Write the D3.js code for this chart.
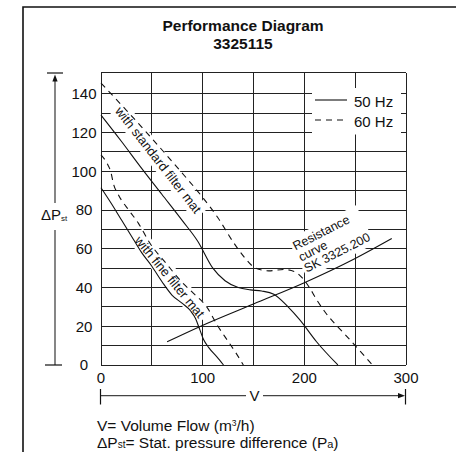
<!DOCTYPE html>
<html>
<head>
<meta charset="utf-8">
<script src="https://cdn.jsdelivr.net/npm/d3@7"></script>
<style>
  body { margin: 0; background: #fff; }
  svg { display: block; }
  text { font-family: "Liberation Sans", Arial, Helvetica, sans-serif; fill: #111; }
</style>
</head>
<body>
<svg id="chart" width="456" height="452"></svg>
<script>
// ---- chart content ----
const titleLines = ["Performance Diagram", "3325115"];
const xTickValues = [0, 100, 200, 300];
const yTickValues = [0, 20, 40, 60, 80, 100, 120, 140];
const xGridValues = [0, 50, 100, 150, 200, 250, 300];
const yGridValues = [0, 10, 20, 30, 40, 50, 60, 70, 80, 90, 100, 110, 120, 130, 140];
const legendLabels = ["50 Hz", "60 Hz"];

// Fan curves [volume flow m³/h, static pressure Pa]
const standard50 = [[0,129],[20,115.5],[40,101.5],[60,88],[80,74.5],[95,64],[110,50],[122,43.5],
  [135,40],[147,38.8],[158,38.2],[170,36.5],[184,30],[196,23],[212,12],[233,0]];
const standard60 = [[0,145.5],[25,131.5],[50,117],[75,102],[100,86.5],[115,76],[130,63.5],[142,55],
  [152,50],[165,48.6],[180,49.3],[190,48.3],[198,45],[205,40],[212,33.8],[220,27.6],[230,21.3],
  [240,15.8],[250,10],[260,4.2],[267,0]];
const fine50 = [[0,91.5],[10,83.5],[20,75],[30,66.5],[40,58],[50,51],[60,43],[70,36],[80,31.8],
  [88,28],[93,24],[97,18.5],[101,13],[106,9],[114,4.2],[120.5,0]];
const fine60 = [[0,108.5],[6,104],[10,99],[12,94],[17,88],[28,79.5],[37,73],[48,63],[64,52.5],
  [81,42],[91,37],[104,30],[115,20],[124,13],[133,6],[140,0]];
const resistance = [[65,12],[97,19.8],[150,31.5],[200,42.5],[250,55],[286,65.3]];

const standardLabel = "with standard filter mat";
const fineLabel = "with fine filter mat";
const resistanceLabel = ["Resistance", "curve", "SK 3325.200"];
const footnote1 = ["V= Volume Flow (m", "3", "/h)"];
const footnote2 = ["ΔP", "st", "= Stat. pressure difference (P", "a", ")"];

// ---- drawing ----
const svg = d3.select("#chart");
const x = d3.scaleLinear().domain([0, 300]).range([101, 406]);
const y = d3.scaleLinear().domain([0, 151]).range([365, 72.5]);
const ink = "#111";

// outer frame (left and top edges)
svg.append("path").attr("d", "M23,452 V7 H456")
  .attr("fill", "none").attr("stroke", ink).attr("stroke-width", 1.6);

// title
svg.selectAll("text.title").data(titleLines).join("text")
  .attr("class", "title")
  .attr("x", 243).attr("y", (d, i) => 31 + i * 18)
  .attr("text-anchor", "middle")
  .style("font-size", "15.5px").style("font-weight", "bold")
  .text(d => d);

// grid
const grid = svg.append("g").attr("shape-rendering", "crispEdges")
  .attr("stroke", "#222").attr("stroke-width", 1);
grid.selectAll("line.v").data(xGridValues).join("line").attr("class", "v")
  .attr("x1", d => x(d)).attr("x2", d => x(d))
  .attr("y1", y(151)).attr("y2", y(0));
grid.selectAll("line.h").data(yGridValues).join("line").attr("class", "h")
  .attr("x1", x(0)).attr("x2", x(300))
  .attr("y1", d => y(d)).attr("y2", d => y(d));
grid.append("line").attr("x1", x(0)).attr("x2", x(300)).attr("y1", y(151)).attr("y2", y(151));

// tick labels
svg.selectAll("text.ytick").data(yTickValues).join("text").attr("class", "ytick")
  .attr("x", 84).attr("y", d => y(d)).attr("dy", "0.36em")
  .attr("text-anchor", "middle").style("font-size", "15px").text(d => d);
svg.selectAll("text.xtick").data(xTickValues).join("text").attr("class", "xtick")
  .attr("x", d => x(d)).attr("y", y(0) + 13).attr("dy", "0.36em")
  .attr("text-anchor", "middle").style("font-size", "15px").text(d => d);

// rotated labels with white backing
function rotatedLabel(lines, px, py, angle, anchor, gap, size) {
  const g = svg.append("g").attr("transform", `translate(${px},${py}) rotate(${angle})`);
  const bg = g.append("rect").attr("fill", "#fff");
  const t = g.append("text").attr("text-anchor", anchor).style("font-size", size + "px");
  lines.forEach((s, i) => t.append("tspan").attr("x", 0).attr("y", i * 12.5).text(s));
  if (anchor === "middle") t.attr("dominant-baseline", "central");
  const b = t.node().getBBox();
  bg.attr("x", b.x - gap).attr("y", b.y - 2).attr("width", b.width + 2 * gap).attr("height", b.height + 4);
  return t;
}

// legend box
svg.append("rect").attr("x", 312).attr("y", 88).attr("width", 89).attr("height", 46.5).attr("fill", "#fff");

// labels first (backgrounds cover the grid), then the curves on top
rotatedLabel([standardLabel], x(55) + 1.8, y(105.3) - 1.4, 52, "middle", 3, 13);
rotatedLabel([fineLabel], x(68), y(45.6), 50.5, "middle", 3, 13);
rotatedLabel(resistanceLabel, 295.5, 250.5, -27, "start", 2, 12.5);

const line = d3.line().x(d => x(d[0])).y(d => y(d[1])).curve(d3.curveMonotoneX);
[[standard50, null], [standard60, "6,5"], [fine50, null], [fine60, "6,5"], [resistance, null]]
  .forEach(([data, dash]) => {
    svg.append("path").datum(data).attr("d", line)
      .attr("fill", "none").attr("stroke", ink).attr("stroke-width", 1.1)
      .attr("stroke-dasharray", dash);
  });

// legend entries
legendLabels.forEach((s, i) => {
  const ly = 100 + i * 20;
  svg.append("line").attr("x1", 315).attr("x2", 347).attr("y1", ly).attr("y2", ly)
    .attr("stroke", ink).attr("stroke-width", 1.1).attr("stroke-dasharray", i ? "6,5" : null);
  svg.append("text").attr("x", 354).attr("y", ly + 1.5).attr("dy", "0.36em")
    .style("font-size", "15px").text(s);
});

// vertical axis arrow with label
const ax = 55, axisColor = "#444";
const yTop = y(151);
svg.append("line").attr("x1", ax).attr("x2", ax).attr("y1", yTop + 8).attr("y2", 203)
  .attr("stroke", axisColor).attr("stroke-width", 1.3);
svg.append("line").attr("x1", ax).attr("x2", ax).attr("y1", 230).attr("y2", y(0))
  .attr("stroke", axisColor).attr("stroke-width", 1.3);
svg.append("path").attr("d", `M${ax},${yTop + 2} L${ax - 2.6},${yTop + 9} L${ax + 2.6},${yTop + 9} Z`)
  .attr("fill", ink);
svg.append("line").attr("x1", 47).attr("x2", 63).attr("y1", yTop + 0.5).attr("y2", yTop + 0.5)
  .attr("stroke", ink).attr("stroke-width", 1.2);
svg.append("line").attr("x1", 45).attr("x2", 62).attr("y1", y(0)).attr("y2", y(0))
  .attr("stroke", ink).attr("stroke-width", 1.2);
const yl = svg.append("text").attr("x", 41).attr("y", 220).style("font-size", "15px");
yl.append("tspan").text("ΔP");
yl.append("tspan").style("font-size", "8px").attr("dy", 1).text("st");

// horizontal axis arrow with label
const ay = 395.7;
svg.append("line").attr("x1", x(0) - 0.5).attr("x2", 246).attr("y1", ay).attr("y2", ay)
  .attr("stroke", axisColor).attr("stroke-width", 1.3);
svg.append("line").attr("x1", 263).attr("x2", x(300) - 6).attr("y1", ay).attr("y2", ay)
  .attr("stroke", axisColor).attr("stroke-width", 1.3);
svg.append("path").attr("d", `M${x(300) - 1},${ay} L${x(300) - 8},${ay - 2.6} L${x(300) - 8},${ay + 2.6} Z`)
  .attr("fill", ink);
[x(0) - 0.5, x(300) - 0.5].forEach(bx => svg.append("line")
  .attr("x1", bx).attr("x2", bx).attr("y1", 389).attr("y2", 404.5)
  .attr("stroke", ink).attr("stroke-width", 1.2));
svg.append("text").attr("x", 254.5).attr("y", ay).attr("dy", "0.36em")
  .attr("text-anchor", "middle").style("font-size", "15px").text("V");

// footnotes
const f1 = svg.append("text").attr("x", 97).attr("y", 431).style("font-size", "15.5px");
f1.append("tspan").text(footnote1[0]);
f1.append("tspan").style("font-size", "8.5px").attr("dy", -5.5).text(footnote1[1]);
f1.append("tspan").attr("dy", 5.5).text(footnote1[2]);
const f2 = svg.append("text").attr("x", 97).attr("y", 447.5).style("font-size", "15.5px");
f2.append("tspan").text(footnote2[0]);
f2.append("tspan").style("font-size", "10px").text(footnote2[1]);
f2.append("tspan").text(footnote2[2]);
f2.append("tspan").style("font-size", "11px").text(footnote2[3]);
f2.append("tspan").text(footnote2[4]);
</script>
</body>
</html>
